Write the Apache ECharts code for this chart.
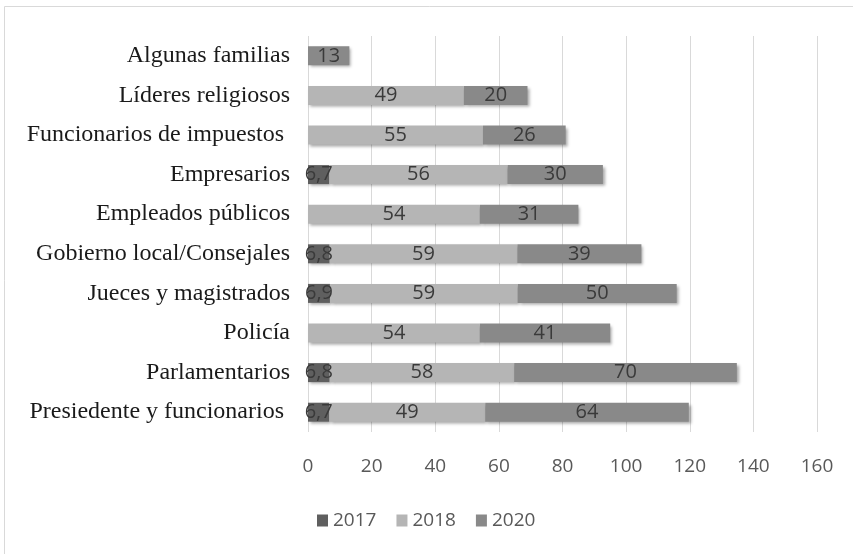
<!DOCTYPE html>
<html>
<head>
<meta charset="utf-8">
<script src="https://cdn.jsdelivr.net/npm/echarts@6/dist/echarts.min.js"></script>
<style>
  html, body { margin: 0; padding: 0; background: #fff; }
  #chart { width: 853px; height: 554px; }
</style>
</head>
<body>
<div id="chart"></div>
<script>
// categories, bottom to top
const categories = [
  "Presiedente y funcionarios ",
  "Parlamentarios",
  "Policía",
  "Jueces y magistrados",
  "Gobierno local/Consejales",
  "Empleados públicos",
  "Empresarios",
  "Funcionarios de impuestos ",
  "Líderes religiosos",
  "Algunas familias"
];
const values2017 = [6.7, 6.8, null, 6.9, 6.8, null, 6.7, null, null, null];
const values2018 = [49, 58, 54, 59, 59, 54, 56, 55, 49, null];
const values2020 = [64, 70, 41, 50, 39, 31, 30, 26, 20, 13];
const xTicks = [0, 20, 40, 60, 80, 100, 120, 140, 160];

const colors = ["#5f5f5f", "#b5b5b5", "#898989"];

const chart = echarts.init(document.getElementById("chart"));

function makeSeries(name, data, color) {
  return {
    name: name,
    type: "bar",
    stack: "total",
    barWidth: 19,
    data: data,
    itemStyle: {
      color: color,
      shadowColor: "rgba(0,0,0,0.35)",
      shadowBlur: 3,
      shadowOffsetX: 2,
      shadowOffsetY: 2
    },
    label: {
      show: true,
      position: "inside",
      color: "#3a3a3a",
      fontFamily: "Open Sans",
      fontSize: 20,
      formatter: function (p) {
        return p.value == null ? "" : String(p.value).replace(".", ",");
      }
    }
  };
}

const option = {
  animation: false,
  color: colors,
  graphic: [
    {
      type: "rect",
      shape: { x: 4.5, y: 6.5, width: 860, height: 560 },
      style: { fill: "none", stroke: "#d9d9d9", lineWidth: 1 }
    }
  ],
  grid: {
    left: 308,
    right: 36,
    top: 36,
    bottom: 122
  },
  xAxis: {
    type: "value",
    min: xTicks[0],
    max: xTicks[xTicks.length - 1],
    interval: 20,
    axisLine: { show: false },
    axisTick: { show: false },
    axisLabel: {
      margin: 25,
      color: "#595959",
      fontFamily: "Open Sans",
      fontSize: 19
    },
    splitLine: { lineStyle: { color: "#d9d9d9", width: 1 } }
  },
  yAxis: {
    type: "category",
    data: categories,
    axisLine: { show: false },
    axisTick: { show: false },
    axisLabel: {
      margin: 18,
      color: "#1a1a1a",
      fontFamily: "Liberation Serif",
      fontSize: 24
    }
  },
  legend: {
    left: 312,
    top: 506,
    itemWidth: 11,
    itemHeight: 12,
    itemGap: 20,
    icon: "rect",
    textStyle: {
      color: "#595959",
      fontFamily: "Open Sans",
      fontSize: 19
    },
    data: ["2017", "2018", "2020"]
  },
  series: [
    makeSeries("2017", values2017, colors[0]),
    makeSeries("2018", values2018, colors[1]),
    makeSeries("2020", values2020, colors[2])
  ]
};

chart.setOption(option);
</script>
</body>
</html>
